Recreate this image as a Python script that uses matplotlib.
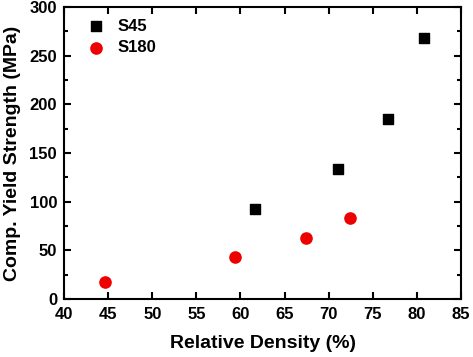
import matplotlib
matplotlib.use('Agg')
import matplotlib.pyplot as plt
from matplotlib.ticker import MultipleLocator

# data
s45_density = [61.6, 71.1, 76.7, 80.8]
s45_strength = [92, 134, 185, 268]
s180_density = [44.7, 59.4, 67.4, 72.4]
s180_strength = [17, 43, 63, 83]

plt.rcParams['font.family'] = 'Liberation Sans'
plt.rcParams['font.weight'] = 'bold'

fig = plt.figure(figsize=(4.73, 3.57), dpi=100)
ax = fig.add_axes([64 / 473, 58 / 357, 397 / 473, 292 / 357])

ax.scatter(s45_density, s45_strength, marker='s', s=55, color='black', label='S45', zorder=3)
ax.scatter(s180_density, s180_strength, marker='o', s=65, color='#ee0000', label='S180', zorder=3)

ax.set_xlim(40, 85)
ax.set_ylim(0, 300)
ax.xaxis.set_major_locator(MultipleLocator(5))
ax.yaxis.set_major_locator(MultipleLocator(50))
ax.yaxis.set_minor_locator(MultipleLocator(25))
ax.tick_params(which='both', direction='in', top=True, right=True, width=1.5, labelsize=12)
ax.tick_params(which='major', length=5)
ax.tick_params(which='minor', length=3)
ax.tick_params(axis='x', pad=6)
ax.tick_params(axis='y', pad=5)
for sp in ax.spines.values():
    sp.set_linewidth(1.5)

ax.set_xlabel('Relative Density (%)', fontsize=14, fontweight='bold', labelpad=9)
ax.set_ylabel('Comp. Yield Strength (MPa)', fontsize=14, fontweight='bold', labelpad=6)

ax.legend(loc='upper left', frameon=False, fontsize=12, handletextpad=0.3,
          borderaxespad=0.3, labelspacing=0.4, bbox_to_anchor=(0.01, 1.0))

fig.savefig('out.png', dpi=100)
